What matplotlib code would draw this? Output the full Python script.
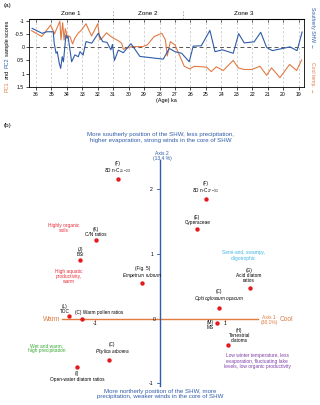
import matplotlib

matplotlib.use("Agg")
import matplotlib.pyplot as plt  # noqa: E402
import matplotlib.transforms as mtransforms  # noqa: E402

plt.rcParams["font.family"] = ["Liberation Sans", "DejaVu Sans"]
plt.rcParams["mathtext.fontset"] = "custom"
plt.rcParams["mathtext.rm"] = "Liberation Sans"
plt.rcParams["mathtext.it"] = "Liberation Sans:italic"

# === (a) PC sample scores against age (ka) ===
pc1_age = [36.28, 35.63, 35.05, 34.8, 34.45, 34.38, 34.27, 34.18, 34.1, 34.0,
           33.8, 33.63, 33.48, 33.26, 33.04, 32.76, 32.4, 32.0, 31.86, 31.7,
           31.43, 31.15, 30.95, 30.67, 30.45, 30.35, 29.8, 29.1, 28.8, 28.35,
           27.85, 27.62, 27.5, 27.3, 27.0, 26.4, 26.05, 25.75, 25.2, 24.95,
           24.65, 24.33, 23.88, 23.23, 22.9, 22.55, 22.04, 21.5, 21.07, 20.75,
           20.21, 19.58, 19.13, 18.8]
pc1 = [-0.62, -0.40, -0.83, -0.50, -0.98, -0.27, -0.92, -0.27, -0.70, -0.45,
       -0.40, -0.12, -0.34, -0.53, -0.65, -0.88, -0.42, -0.88, -0.28, -0.35,
       -0.54, -0.40, -0.33, -0.24, -0.15, 0.08, -0.02, -0.02, -0.08, -0.40,
       -0.52, -0.27, 0.33, -0.21, -0.08, 0.72, 0.82, 0.72, 0.74, 0.76,
       0.92, 0.74, 0.88, 0.50, 0.78, 0.84, 0.84, 0.72, 1.06, 0.78,
       1.15, 0.65, 0.88, 0.48]

pc2_age = [36.25, 35.6, 35.3, 34.88, 34.82, 34.7, 34.62, 34.49, 34.4, 34.3,
           34.22, 34.06, 33.98, 33.92, 33.69, 33.48, 33.26, 33.15, 32.95, 32.76,
           32.39, 31.97, 31.68, 31.4, 31.15, 31.05, 30.92, 30.67, 30.35, 29.85,
           29.27, 27.76, 27.37, 27.0, 26.57, 26.08, 25.82, 25.3, 24.74, 24.41,
           23.93, 23.23, 22.88, 22.52, 21.88, 21.45, 21.07, 20.7, 19.56, 19.1,
           18.77]
pc2 = [-0.71, -0.52, -0.58, -0.58, -0.15, 0.23, 0.17, 0.61, 0.80, 0.36,
       0.55, -0.46, -0.34, -0.40, 0.55, 0.29, 0.36, 0.17, 0.30, -0.21,
       -0.15, -0.52, -0.21, -0.18, 0.10, -0.10, 0.50, 0.11, 0.21, -0.13,
       0.35, 0.45, 0.05, 0.17, 0.23, 0.55, -0.04, -0.05, -0.63, 0.17,
       0.10, 0.23, -0.51, -0.16, -0.20, -0.56, 0.01, 0.13, -0.01, 0.13,
       -0.57]

zone_names = ["Zone 1", "Zone 2", "Zone 3"]
zone_bounds = [36.45, 31.0, 26.5, 18.65]
age_ticks = list(range(19, 37))
score_ticks = [-1, -0.5, 0, 0.5, 1, 1.5]

# === (b) PCA biplot: variable loadings ===
var_codes = ["(F)", "(F)", "(E)", "(K)", "(J)", "(Fig. 5)", "(G)", "(C)",
             "(L)", "(C)", "(M)", "(H)", "(C)", "(I)"]
var_names = ["δD n-C$_{21-23}$", "δD n-C$_{27-31}$", "Cyperaceae", "C/N ratios",
             "BSi", "$\\it{Empetrum\\ rubrum}$", "Acid diatom\nratios",
             "$\\it{Ophioglossum\\ opacum}$", "TOC", "Warm pollen ratios", "MS",
             "Terrestrial\ndiatoms", "$\\it{Phylica\\ arborea}$",
             "Open-water diatom ratios"]
axis1 = [-0.655, 0.70, 0.57, -0.99, -1.235, -0.277, 1.375, 0.90,
         -1.40, -1.21, 0.877, 1.04, -0.79, -1.28]
axis2 = [2.16, 1.845, 1.386, 1.21, 0.907, 0.547, 0.475, 0.17,
         0.046, 0.0, -0.062, -0.41, -0.64, -0.75]

# label placement: (dx px, dy px, ha, va, joiner between code and name)
label_layout = [
    (0, 4, "center", "bottom", "\n"), (0, 4, "center", "bottom", "\n"),
    (0, 4.3, "center", "bottom", "\n"), (0, 3, "center", "bottom", "\n"),
    (0, 3, "center", "bottom", "\n"), (0, 3.3, "center", "bottom", "\n"),
    (-0.7, 5, "center", "bottom", "\n"), (0, 4.4, "center", "bottom", "\n"),
    (-4.3, 2, "center", "bottom", "\n"), (-6.4, 3.4, "left", "bottom", " "),
    (-7, 2.7, "center", "top", "\n"), (11.3, 2, "center", "bottom", "\n"),
    (3.3, 4, "center", "bottom", "\n"), (0, -4.2, "center", "top", "\n"),
]

ORANGE = "#e27a42"
BLUE = "#2f5ca8"
RED = "#e4191d"

fig = plt.figure(figsize=(3.2, 4.05), dpi=100)

# ---------------- (a) ----------------
ax = fig.add_axes([29 / 320, 1 - 87 / 405, 275 / 320, 68 / 405])
ax.plot(pc1_age, pc1, color=ORANGE, lw=0.8)
ax.plot(pc2_age, pc2, color=BLUE, lw=0.8)
ax.axhline(0, color="#555555", ls=(0, (4, 3)), lw=0.7, zorder=0)
ax.set_xlim(zone_bounds[0], zone_bounds[-1])
ax.set_ylim(1.5, -1.06)
ax.set_xticks(age_ticks)
ax.set_xticklabels([str(a) for a in age_ticks])
ax.set_yticks(score_ticks)
ax.set_yticklabels([f"{v:g}" for v in score_ticks])
ax.grid(axis="x", color="#bbbbbb", ls=(0, (3, 3)), lw=0.5)
ax.tick_params(labelsize=3.7, length=2, width=0.5, pad=1.5)
for sp in ax.spines.values():
    sp.set_linewidth(0.6)
top = ax.secondary_xaxis("top")
top.set_xticks(age_ticks)
top.tick_params(direction="in", length=2, width=0.5, labeltop=False)

blend = mtransforms.blended_transform_factory(ax.transData, ax.transAxes)
for i, name in enumerate(zone_names):
    mid = (zone_bounds[i] + zone_bounds[i + 1]) / 2
    ax.text(mid, 1.075, name, transform=blend, ha="center", va="center",
            fontsize=4.5)
for b in zone_bounds[1:-1]:
    ax.plot([b, b], [1.0, 1.12], transform=blend, color="#999999",
            ls=(0, (2, 2)), lw=0.6, clip_on=False)

fig.text(166 / 320, 1 - 100.5 / 405, "(Age) ka", ha="center", va="center",
         fontsize=4)
fig.text(7 / 320, 1 - 6 / 405, "(a)", ha="center", va="center", fontsize=4.5)
fig.text(313 / 320, 1 - 28 / 405, "Southerly SHW \u2190", rotation=-90,
         color=BLUE, ha="center", va="center", fontsize=3.7)
fig.text(313 / 320, 1 - 78 / 405, "Cool temp. \u2192", rotation=-90,
         color=ORANGE, ha="center", va="center", fontsize=3.7)

# multi-coloured y label, stacked bottom to top
renderer = fig.canvas.get_renderer()
y_px = 91.5  # bottom of the first piece, px from top
for piece, col in [("PC1", ORANGE), ("and", "black"), ("PC2", BLUE),
                   ("sample scores", "black")]:
    t = fig.text(7 / 320, 1 - y_px / 405, piece, rotation=90, color=col,
                 ha="center", va="bottom", fontsize=4)
    bb = t.get_window_extent(renderer=renderer)
    y_px = (405 - bb.y1) - 1.6

# ---------------- (b) ----------------
axb = fig.add_axes([0, 0, 1, 295 / 405])
axb.set_xlim(-2.466, 2.457)
axb.set_ylim(-1.334, 3.226)
axb.axis("off")

axb.plot([-1.51, 1.5], [0, 0], color=ORANGE, lw=1.0)
axb.plot([0, 0], [-1.04, 2.45], color=BLUE, lw=1.0)
for v in [-1, 1, 2]:
    axb.plot([-0.045, 0], [v, v], color=BLUE, lw=0.6)
    axb.text(-0.11, v, f"{v:d}", ha="right", va="center", fontsize=3.7)
axb.text(-0.07, -0.01, "0", ha="right", va="center", fontsize=3.7)
for v in [-1, 1]:
    axb.plot([v, v], [0, -0.04], color=ORANGE, lw=0.6)
    axb.text(v, -0.075, f"{v:d}", ha="center", va="center", fontsize=3.7)

axb.scatter(axis1, axis2, s=10, color=RED, zorder=5, linewidths=0)
for xv, yv, code, name, (dx, dy, ha, va, sep) in zip(axis1, axis2, var_codes,
                                                   var_names, label_layout):
    axb.annotate(code + sep + name, (xv, yv), xytext=(dx * 0.72, dy * 0.72),
                 textcoords="offset points", ha=ha, va=va, fontsize=3.4,
                 linespacing=1.05, multialignment="center")

axb.text(0.003, 2.80, "More southerly position of the SHW, less precipitation,\n"
         "higher evaporation, strong winds in the core of SHW", color=BLUE,
         ha="center", va="center", fontsize=4.4, linespacing=1.15)
axb.text(0.0, -1.165, "More northerly position of the SHW, more\n"
         "precipitation, weaker winds in the core of SHW", color=BLUE,
         ha="center", va="center", fontsize=4.4, linespacing=1.15)
axb.text(0.03, 2.515, "Axis 2\n(13.4 %)", color=BLUE, ha="center",
         va="center", fontsize=3.6, linespacing=1.05)
axb.text(1.677, -0.017, "Axis 1\n(38.1%)", color=ORANGE, ha="center",
         va="center", fontsize=3.6, linespacing=1.05)
axb.text(1.84, -0.01, "Cool", color=ORANGE, ha="left", va="center",
         fontsize=4.8)
axb.text(-1.53, -0.01, "Warm", color=ORANGE, ha="right", va="center",
         fontsize=4.8)

axb.text(-1.49, 1.40, "Highly organic\nsoils", color="#e8303a", ha="center",
         va="center", fontsize=3.5, linespacing=1.1)
axb.text(-1.415, 0.652, "High aquatic\nproductivity,\nwarm", color="#e8303a",
         ha="center", va="center", fontsize=3.5, linespacing=1.1)
axb.text(1.277, 0.977, "Semi-arid, swampy,\noligotrophic", color="#3fb8e8",
         ha="center", va="center", fontsize=3.5, linespacing=1.1)
axb.text(-1.748, -0.453, "Wet and warm,\nhigh precipitation", color="#3aa935",
         ha="center", va="center", fontsize=3.5, linespacing=1.1)
axb.text(1.488, -0.654, "Low winter temperature, less\nevaporation, fluctuating lake\n"
         "levels, low organic productivity", color="#8040a8", ha="center",
         va="center", fontsize=3.5, linespacing=1.1)

fig.text(8 / 320, 1 - 126 / 405, "(b)", ha="center", va="center", fontsize=4.5)

fig.savefig("out.png", dpi=100)
plt.close(fig)
